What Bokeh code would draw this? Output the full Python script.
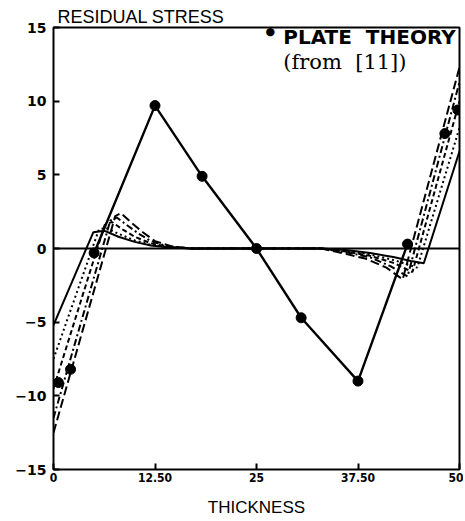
from bokeh.plotting import figure
from bokeh.models import Range1d, FixedTicker, Label, Span
from bokeh.embed import file_html
from bokeh.resources import INLINE

# Plate theory points (from [11])
theory_x = [0.6, 2.1, 5.0, 12.5, 18.3, 25.0, 30.5, 37.5, 43.6, 48.2, 49.8]
theory_y = [-9.1, -8.2, -0.3, 9.7, 4.9, 0.0, -4.7, -9.0, 0.3, 7.8, 9.4]

# Plate theory connecting line
line_x = [5.0, 12.5, 18.3, 25.0, 30.5, 37.5, 43.6]
line_y = [-0.3, 9.7, 4.9, 0.0, -4.7, -9.0, 0.3]

# Family of computed curves
a_x = [0, 4.9, 6.3, 8, 10, 12, 14, 17, 33, 36, 39, 42, 44, 45.6, 50]
a_y = [-5.2, 1.1, 1.2, 0.8, 0.45, 0.2, 0.08, 0, 0, -0.1, -0.3, -0.6, -0.85, -1.0, 6.6]

b_x = [0, 5.6, 6.5, 8, 10, 12, 14, 17, 33, 36, 39, 42, 44.8, 50]
b_y = [-7.5, 1.3, 1.4, 1.0, 0.55, 0.25, 0.1, 0, 0, -0.15, -0.4, -0.8, -1.3, 8.2]

c_x = [0, 6.3, 7.2, 8.5, 10, 12, 14, 17, 33, 36, 39, 42, 44.2, 50]
c_y = [-9.5, 1.6, 1.8, 1.3, 0.8, 0.35, 0.12, 0, 0, -0.2, -0.5, -1.0, -1.6, 10.0]

d_x = [0, 7.0, 7.8, 9, 10.5, 12, 14, 17, 33, 36, 39, 41.5, 43.6, 50]
d_y = [-11.5, 1.9, 2.1, 1.6, 1.0, 0.5, 0.15, 0, 0, -0.25, -0.6, -1.2, -1.9, 11.3]

e_x = [0, 7.6, 8.3, 9.5, 11, 12.5, 14.5, 17, 33, 35.5, 38.5, 41, 43, 50]
e_y = [-12.5, 2.2, 2.4, 1.8, 1.1, 0.5, 0.15, 0, 0, -0.3, -0.7, -1.3, -2.1, 12.3]

x_ticks = [0, 12.5, 25, 37.5, 50]
x_tick_labels = ["0", "12.50", "25", "37.50", "50"]
y_ticks = [-15, -10, -5, 0, 5, 10, 15]

NB = "\u00a0"

p = figure(width=463, height=519, x_range=Range1d(0, 50), y_range=Range1d(-15, 15),
           output_backend="svg", toolbar_location=None,
           min_border_left=53, min_border_right=4, min_border_top=27, min_border_bottom=47)
p.background_fill_color = "white"
p.border_fill_color = "white"
p.outline_line_color = "black"
p.outline_line_width = 2
p.xgrid.visible = False
p.ygrid.visible = False

p.title.text = "RESIDUAL STRESS"
p.title.text_font = "Liberation Sans"
p.title.text_font_size = "18px"
p.title.text_font_style = "normal"
p.title.text_color = "black"
p.title.align = "left"
p.title.offset = 4
p.title.standoff = 2

for ax in (p.xaxis, p.yaxis):
    ax.axis_line_color = None
    ax.major_tick_in = 6
    ax.major_tick_out = 0
    ax.minor_tick_line_color = None
    ax.major_tick_line_color = "black"
    ax.major_tick_line_width = 2
    ax.major_label_text_color = "black"
    ax.major_label_text_font_style = "bold"

p.xaxis.ticker = FixedTicker(ticks=x_ticks)
p.xaxis.major_label_overrides = {t: l for t, l in zip(x_ticks, x_tick_labels)}
p.xaxis.major_label_text_font = "DejaVu Sans Condensed"
p.xaxis.major_label_text_font_size = "12px"
p.xaxis.major_label_standoff = 3
p.xaxis.axis_label = "THICKNESS"
p.xaxis.axis_label_text_font = "Liberation Sans"
p.xaxis.axis_label_text_font_size = "17px"
p.xaxis.axis_label_text_font_style = "normal"
p.xaxis.axis_label_text_color = "black"
p.xaxis.axis_label_standoff = 13

p.yaxis.ticker = FixedTicker(ticks=y_ticks)
p.yaxis.major_label_text_font = "DejaVu Sans"
p.yaxis.major_label_text_font_size = "14px"
p.yaxis.major_label_standoff = 7

p.add_layout(Span(location=0, dimension="width", line_color="black", line_width=2))

p.line(a_x, a_y, line_color="black", line_width=2)
p.line(b_x, b_y, line_color="black", line_width=2, line_dash="2 3")
p.line(c_x, c_y, line_color="black", line_width=2, line_dash="5 3")
p.line(d_x, d_y, line_color="black", line_width=2, line_dash="7 3 2 3")
p.line(e_x, e_y, line_color="black", line_width=2, line_dash="9 4")

p.line(line_x, line_y, line_color="black", line_width=2.4)
p.scatter(theory_x, theory_y, size=10, color="black")

p.add_layout(Label(x=26.7, y=14.75, text="\u25cf", text_font="DejaVu Sans",
                   text_font_size="11px", text_color="black", text_align="center",
                   text_baseline="middle"))
p.add_layout(Label(x=28.3, y=14.36, text="PLATE" + NB * 2 + "THEORY", text_font="DejaVu Sans",
                   text_font_style="bold", text_font_size="20px", text_color="black",
                   text_baseline="alphabetic"))
p.add_layout(Label(x=28.3, y=12.68, text="(from" + NB * 2 + "[11])", text_font="DejaVu Serif",
                   text_font_size="21px", text_color="black", text_baseline="alphabetic"))

open("out.html", "w").write(file_html(p, INLINE))
